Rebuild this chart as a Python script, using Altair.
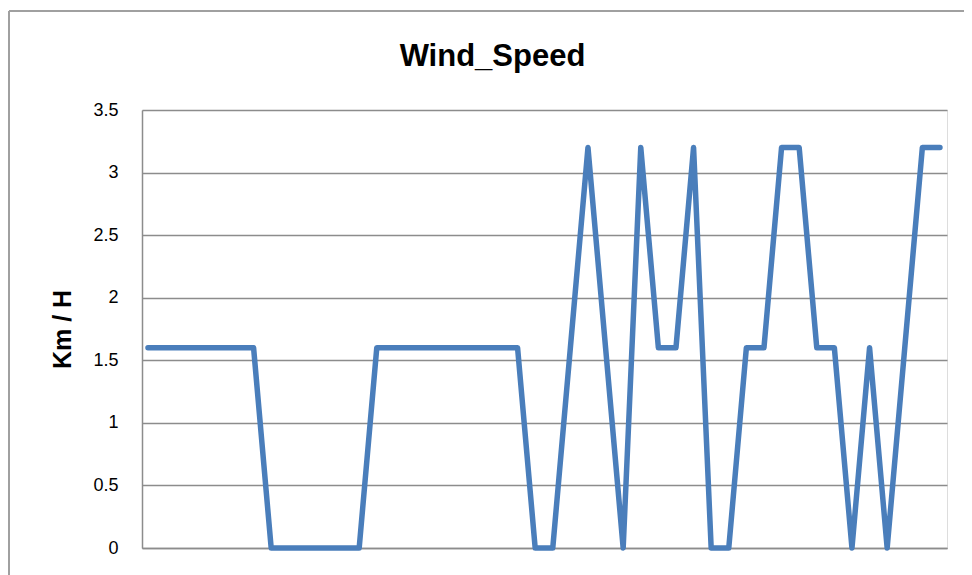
import altair as alt
import pandas as pd

# Observation index (category positions along the x axis)
obs = list(range(46))
# Wind speed readings, Km / H
speed = [1.6, 1.6, 1.6, 1.6, 1.6, 1.6, 1.6,
         0, 0, 0, 0, 0, 0,
         1.6, 1.6, 1.6, 1.6, 1.6, 1.6, 1.6, 1.6, 1.6,
         0, 0, 1.6, 3.2, 1.6, 0, 3.2, 1.6, 1.6, 3.2, 0, 0,
         1.6, 1.6, 3.2, 3.2, 1.6, 1.6, 0, 1.6, 0, 1.6, 3.2, 3.2]
y_ticks = [0, 0.5, 1, 1.5, 2, 2.5, 3, 3.5]

df = pd.DataFrame({"obs": obs, "speed": speed})

GRID = "#8c8c8c"
FONT = "Liberation Sans"

line = alt.Chart(df).mark_line(
    color="#4a7ebb", strokeWidth=5.5, strokeCap="round", strokeJoin="round"
).encode(
    x=alt.X("obs:Q", scale=alt.Scale(domain=[-0.34, 45.4], nice=False, zero=False),
            axis=alt.Axis(labels=False, ticks=False, grid=False, domain=True,
                          domainColor=GRID, domainWidth=1.5, title=None)),
    y=alt.Y("speed:Q", scale=alt.Scale(domain=[0, 3.5], nice=False),
            axis=alt.Axis(values=y_ticks, format="~g", ticks=False, grid=True,
                          gridColor=GRID, gridWidth=1.5, domainColor=GRID, domainWidth=1.5,
                          labelFont=FONT, labelFontSize=18, labelColor="#000000",
                          labelPadding=24, title="Km / H", titleFont=FONT,
                          titleFontSize=25, titleFontWeight="bold", titleColor="#000000",
                          titlePadding=17)),
)

border_left = alt.Chart(df).mark_rule(color="#a0a0a0", strokeWidth=1.5).encode(
    x=alt.value(-133), y=alt.value(-99), y2=alt.value(470)
)
border_top = alt.Chart(df).mark_rule(color="#a0a0a0", strokeWidth=1.5).encode(
    x=alt.value(-133), x2=alt.value(840), y=alt.value(-99)
)

chart = alt.layer(border_left, border_top, line).properties(
    width=805,
    height=438,
    padding={"left": 134, "top": 102, "right": 17, "bottom": 27},
    autosize=alt.AutoSizeParams(type="none"),
    title=alt.TitleParams("Wind_Speed", font=FONT, fontSize=31, fontWeight="bold",
                          color="#000000", anchor="middle", frame="group",
                          baseline="alphabetic", dx=-52, offset=-54, dy=33),
).configure_view(stroke=None).configure(background="white")

chart.save("out.html", embed_options={"renderer": "svg", "actions": False})
